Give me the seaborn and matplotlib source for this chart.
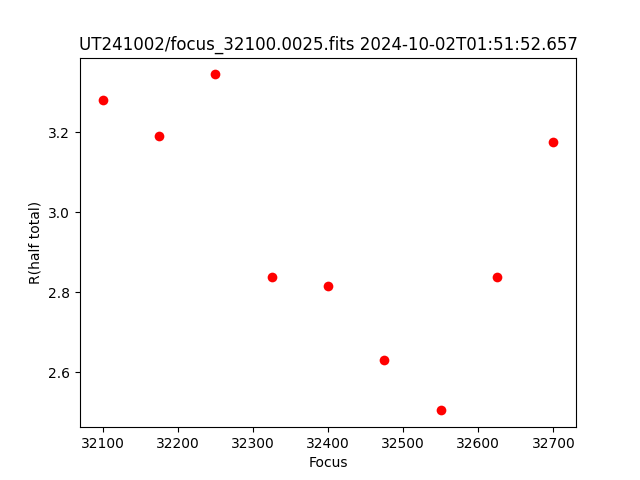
import matplotlib
matplotlib.use('Agg')
import matplotlib.pyplot as plt
import seaborn as sns
import pandas as pd

focus = [32100, 32175, 32250, 32325, 32400, 32475, 32550, 32625, 32700]
r_half = [3.280, 3.192, 3.345, 2.838, 2.815, 2.631, 2.504, 2.838, 3.177]

df = pd.DataFrame({'Focus': focus, 'R': r_half})

fig, ax = plt.subplots(figsize=(6.4, 4.8), dpi=100)
sns.scatterplot(data=df, x='Focus', y='R', ax=ax, color='red', s=49,
                edgecolor='red', linewidth=0)
ax.set_title('UT241002/focus_32100.0025.fits 2024-10-02T01:51:52.657')
ax.set_xlabel('Focus')
ax.set_ylabel('R(half total)')
fig.savefig('out.png')
